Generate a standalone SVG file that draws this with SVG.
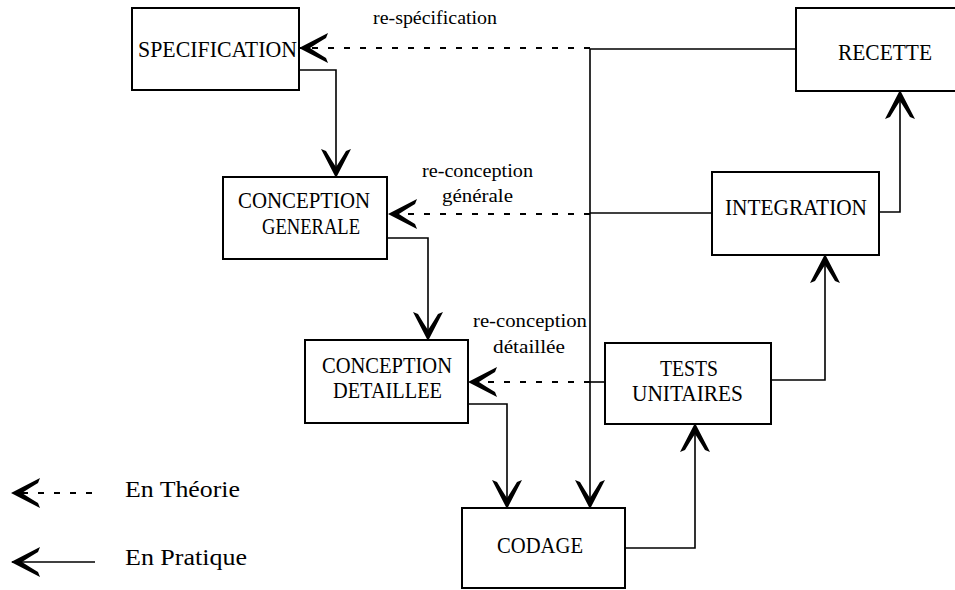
<svg xmlns="http://www.w3.org/2000/svg" width="955" height="590" viewBox="0 0 955 590">
<style>
.box{fill:#fff;stroke:#000;stroke-width:2}
.t{font-family:"Liberation Serif","Times New Roman",serif;font-size:23px;fill:#000}
.l{font-family:"Liberation Serif","Times New Roman",serif;font-size:19px;fill:#000}
.lg{font-family:"Liberation Serif","Times New Roman",serif;font-size:23px;fill:#000}
.sol{fill:none;stroke:#000;stroke-width:1.6}
.dash{fill:none;stroke:#000;stroke-width:2;stroke-dasharray:6 10}
</style>
<defs>
<marker id="ah" viewBox="-31 -16 33 32" refX="0" refY="0" markerWidth="33" markerHeight="32" markerUnits="userSpaceOnUse" orient="auto">
<path d="M1,0 L-28,-15 L-26,-10 Q-16,-4 -10,0 Q-16,4 -26,10 L-28,15 Z" fill="#000" stroke="none"/>
</marker>
</defs>
<rect width="955" height="590" fill="#fff"/>

<g id="connectors">
<!-- practice (solid) -->
<path class="sol" d="M299,70 H336 V177" marker-end="url(#ah)"/>
<path class="sol" d="M387,238 H428 V340" marker-end="url(#ah)"/>
<path class="sol" d="M468,404 H507 V508" marker-end="url(#ah)"/>
<path class="sol" d="M625,548 H695 V424" marker-end="url(#ah)"/>
<path class="sol" d="M771,380 H825 V255" marker-end="url(#ah)"/>
<path class="sol" d="M879,212 H900 V91" marker-end="url(#ah)"/>
<path class="sol" d="M796,49 H590 V508" marker-end="url(#ah)"/>
<path class="sol" d="M712,213 H590"/>
<path class="sol" d="M605,382 H590"/>
<!-- theory (dashed) -->
<path class="dash" d="M590,48 H300" marker-end="url(#ah)"/>
<path class="dash" d="M590,214 H389" marker-end="url(#ah)"/>
<path class="dash" d="M590,382 H469" marker-end="url(#ah)"/>
<!-- legend -->
<path class="dash" d="M92,493 H12" marker-end="url(#ah)"/>
<path class="sol" d="M95,562 H12" marker-end="url(#ah)"/>
</g>

<g id="labels">
<text class="l" x="373" y="24" textLength="124" lengthAdjust="spacingAndGlyphs">re-spécification</text>
<text class="l" x="422" y="177" textLength="111" lengthAdjust="spacingAndGlyphs">re-conception</text>
<text class="l" x="442" y="202" textLength="71" lengthAdjust="spacingAndGlyphs">générale</text>
<text class="l" x="473" y="327" textLength="114" lengthAdjust="spacingAndGlyphs">re-conception</text>
<text class="l" x="493" y="353" textLength="72" lengthAdjust="spacingAndGlyphs">détaillée</text>
</g>

<g id="specification">
<rect class="box" x="132" y="8" width="167" height="82"/>
<text class="t" x="138" y="57" textLength="159" lengthAdjust="spacingAndGlyphs">SPECIFICATION</text>
</g>
<g id="conception-generale">
<rect class="box" x="223" y="177" width="164" height="82"/>
<text class="t" x="238" y="208" textLength="132" lengthAdjust="spacingAndGlyphs">CONCEPTION</text>
<text class="t" x="262" y="234" textLength="98" lengthAdjust="spacingAndGlyphs">GENERALE</text>
</g>
<g id="conception-detaillee">
<rect class="box" x="305" y="340" width="163" height="83"/>
<text class="t" x="322" y="373" textLength="130" lengthAdjust="spacingAndGlyphs">CONCEPTION</text>
<text class="t" x="333" y="398" textLength="109" lengthAdjust="spacingAndGlyphs">DETAILLEE</text>
</g>
<g id="codage">
<rect class="box" x="462" y="508" width="163" height="80"/>
<text class="t" x="497" y="553" textLength="86" lengthAdjust="spacingAndGlyphs">CODAGE</text>
</g>
<g id="tests-unitaires">
<rect class="box" x="605" y="343" width="166" height="81"/>
<text class="t" x="660" y="376" textLength="58" lengthAdjust="spacingAndGlyphs">TESTS</text>
<text class="t" x="632" y="401" textLength="111" lengthAdjust="spacingAndGlyphs">UNITAIRES</text>
</g>
<g id="integration">
<rect class="box" x="712" y="172" width="167" height="83"/>
<text class="t" x="725" y="215" textLength="142" lengthAdjust="spacingAndGlyphs">INTEGRATION</text>
</g>
<g id="recette">
<rect class="box" x="796" y="8" width="180" height="83"/>
<text class="t" x="838" y="60" textLength="94" lengthAdjust="spacingAndGlyphs">RECETTE</text>
</g>

<g id="legend">
<text class="lg" x="125" y="497" textLength="115" lengthAdjust="spacingAndGlyphs">En Théorie</text>
<text class="lg" x="125" y="565" textLength="122" lengthAdjust="spacingAndGlyphs">En Pratique</text>
</g>
</svg>
